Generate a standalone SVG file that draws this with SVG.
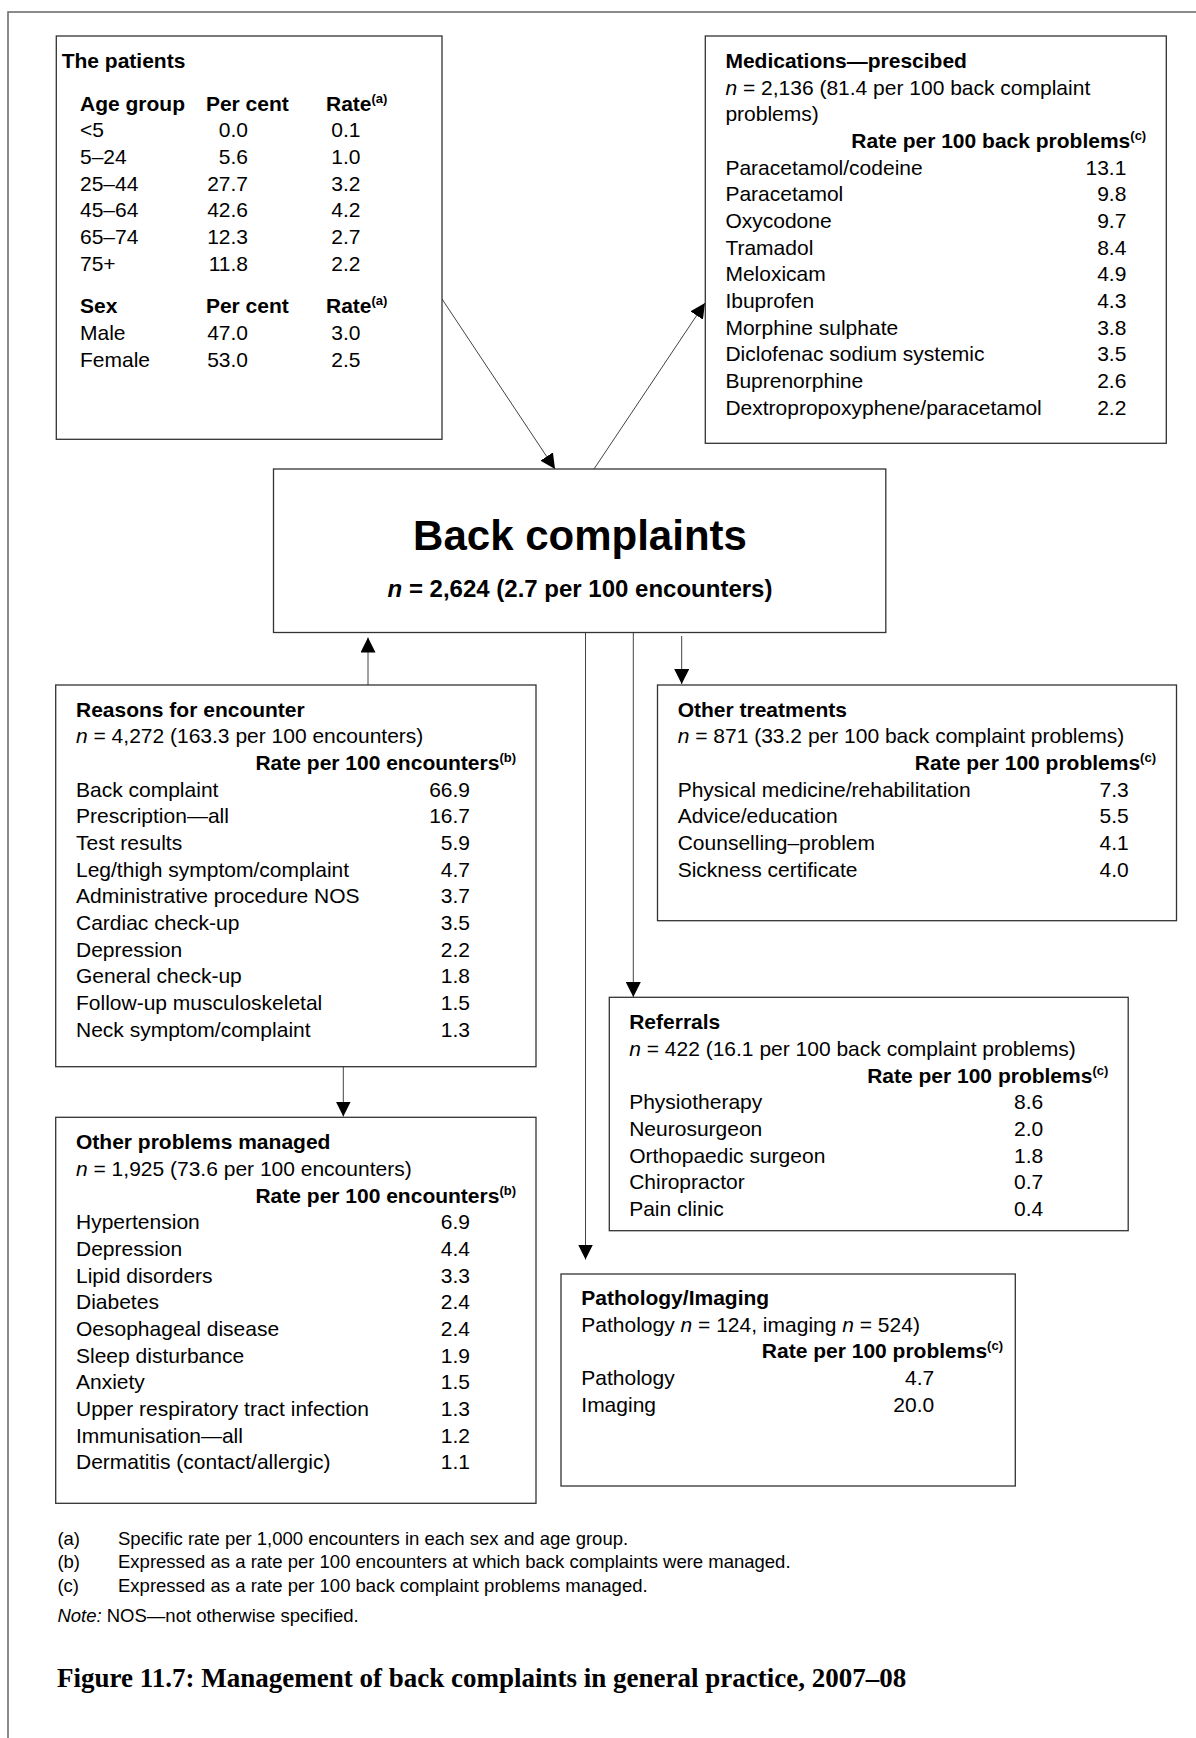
<svg xmlns="http://www.w3.org/2000/svg" width="1196" height="1738" viewBox="0 0 1196 1738">
<defs>
<style>
.t{font-family:"Liberation Sans",Arial,Helvetica,sans-serif;font-size:21px;fill:#000}
.b{font-weight:bold}
.r{text-anchor:end}
.m{text-anchor:middle}
.i{font-style:italic}
.sup{font-size:13px;font-weight:bold}
.box{fill:#fff;stroke:#333;stroke-width:1.3}
.ln{stroke:#444;stroke-width:1;fill:none}
.fn{font-family:"Liberation Sans",Arial,Helvetica,sans-serif;font-size:18.5px;fill:#000}
.cap{font-family:"Liberation Serif","Times New Roman",serif;font-size:27px;font-weight:bold;fill:#000}
</style>
<marker id="ah" markerUnits="userSpaceOnUse" markerWidth="15" markerHeight="15" viewBox="0 0 15 15" refX="15" refY="7.5" orient="auto">
<path d="M0,0 L15,7.5 L0,15 z" fill="#000"/>
</marker>
</defs>
<rect width="1196" height="1738" fill="#fff"/>
<path d="M8,1738 L8,12 L1196,12" fill="none" stroke="#666" stroke-width="1.5"/>

<g id="connectors">
<line class="ln" x1="442" y1="299" x2="555" y2="469" marker-end="url(#ah)"/>
<line class="ln" x1="594" y1="469" x2="705" y2="303" marker-end="url(#ah)"/>
<line class="ln" x1="368" y1="685" x2="368" y2="637.5" marker-end="url(#ah)" stroke="#888"/>
<line class="ln" x1="681.7" y1="636" x2="681.7" y2="684" marker-end="url(#ah)"/>
<line class="ln" x1="633.3" y1="632.5" x2="633.3" y2="997" marker-end="url(#ah)"/>
<line class="ln" x1="585.5" y1="632.5" x2="585.5" y2="1259.5" marker-end="url(#ah)"/>
<line class="ln" x1="343.3" y1="1066.7" x2="343.3" y2="1116.5" marker-end="url(#ah)"/>
</g>

<g id="patients">
<rect class="box" x="56.3" y="36" width="385.7" height="403.3"/>
<text class="t b" x="61.7" y="67.5">The patients</text>
<text class="t b" x="80" y="110.7">Age group</text>
<text class="t b" x="205.9" y="110.7">Per cent</text>
<text class="t b" x="326" y="110.7">Rate<tspan class="sup" dy="-8">(a)</tspan></text>
<text class="t" x="80" y="137.3">&lt;5</text><text class="t r" x="248" y="137.3">0.0</text><text class="t r" x="360.5" y="137.3">0.1</text>
<text class="t" x="80" y="164">5–24</text><text class="t r" x="248" y="164">5.6</text><text class="t r" x="360.5" y="164">1.0</text>
<text class="t" x="80" y="190.7">25–44</text><text class="t r" x="248" y="190.7">27.7</text><text class="t r" x="360.5" y="190.7">3.2</text>
<text class="t" x="80" y="217.3">45–64</text><text class="t r" x="248" y="217.3">42.6</text><text class="t r" x="360.5" y="217.3">4.2</text>
<text class="t" x="80" y="244">65–74</text><text class="t r" x="248" y="244">12.3</text><text class="t r" x="360.5" y="244">2.7</text>
<text class="t" x="80" y="270.7">75+</text><text class="t r" x="248" y="270.7">11.8</text><text class="t r" x="360.5" y="270.7">2.2</text>
<text class="t b" x="80" y="313.3">Sex</text>
<text class="t b" x="205.9" y="313.3">Per cent</text>
<text class="t b" x="326" y="313.3">Rate<tspan class="sup" dy="-8">(a)</tspan></text>
<text class="t" x="80" y="340">Male</text><text class="t r" x="248" y="340">47.0</text><text class="t r" x="360.5" y="340">3.0</text>
<text class="t" x="80" y="366.7">Female</text><text class="t r" x="248" y="366.7">53.0</text><text class="t r" x="360.5" y="366.7">2.5</text>
</g>

<g id="medications">
<rect class="box" x="705.3" y="36" width="461" height="407.3"/>
<text class="t b" x="725.4" y="68">Medications—prescibed</text>
<text class="t" x="725.4" y="94.7"><tspan class="i">n</tspan> = 2,136 (81.4 per 100 back complaint</text>
<text class="t" x="725.4" y="121.3">problems)</text>
<text class="t b r" x="1146.2" y="148">Rate per 100 back problems<tspan class="sup" dy="-8">(c)</tspan></text>
<text class="t" x="725.4" y="174.7">Paracetamol/codeine</text><text class="t r" x="1126.4" y="174.7">13.1</text>
<text class="t" x="725.4" y="201.3">Paracetamol</text><text class="t r" x="1126.4" y="201.3">9.8</text>
<text class="t" x="725.4" y="228">Oxycodone</text><text class="t r" x="1126.4" y="228">9.7</text>
<text class="t" x="725.4" y="254.7">Tramadol</text><text class="t r" x="1126.4" y="254.7">8.4</text>
<text class="t" x="725.4" y="281.3">Meloxicam</text><text class="t r" x="1126.4" y="281.3">4.9</text>
<text class="t" x="725.4" y="308">Ibuprofen</text><text class="t r" x="1126.4" y="308">4.3</text>
<text class="t" x="725.4" y="334.7">Morphine sulphate</text><text class="t r" x="1126.4" y="334.7">3.8</text>
<text class="t" x="725.4" y="361.3">Diclofenac sodium systemic</text><text class="t r" x="1126.4" y="361.3">3.5</text>
<text class="t" x="725.4" y="388">Buprenorphine</text><text class="t r" x="1126.4" y="388">2.6</text>
<text class="t" x="725.4" y="414.7">Dextropropoxyphene/paracetamol</text><text class="t r" x="1126.4" y="414.7">2.2</text>
</g>

<g id="back-complaints">
<rect class="box" x="273.5" y="469" width="612.3" height="163.5"/>
<text class="t b m" x="580" y="550" style="font-size:42px">Back complaints</text>
<text class="t b m" x="580" y="597.3" style="font-size:24px"><tspan class="i">n</tspan> = 2,624 (2.7 per 100 encounters)</text>
</g>

<g id="reasons">
<rect class="box" x="55.7" y="685" width="480.3" height="381.7"/>
<text class="t b" x="76" y="716.7">Reasons for encounter</text>
<text class="t" x="76" y="743.3"><tspan class="i">n</tspan> = 4,272 (163.3 per 100 encounters)</text>
<text class="t b r" x="516" y="770">Rate per 100 encounters<tspan class="sup" dy="-8">(b)</tspan></text>
<text class="t" x="76" y="796.7">Back complaint</text><text class="t r" x="470" y="796.7">66.9</text>
<text class="t" x="76" y="823.3">Prescription—all</text><text class="t r" x="470" y="823.3">16.7</text>
<text class="t" x="76" y="850">Test results</text><text class="t r" x="470" y="850">5.9</text>
<text class="t" x="76" y="876.7">Leg/thigh symptom/complaint</text><text class="t r" x="470" y="876.7">4.7</text>
<text class="t" x="76" y="903.3">Administrative procedure NOS</text><text class="t r" x="470" y="903.3">3.7</text>
<text class="t" x="76" y="930">Cardiac check-up</text><text class="t r" x="470" y="930">3.5</text>
<text class="t" x="76" y="956.7">Depression</text><text class="t r" x="470" y="956.7">2.2</text>
<text class="t" x="76" y="983.3">General check-up</text><text class="t r" x="470" y="983.3">1.8</text>
<text class="t" x="76" y="1010">Follow-up musculoskeletal</text><text class="t r" x="470" y="1010">1.5</text>
<text class="t" x="76" y="1036.7">Neck symptom/complaint</text><text class="t r" x="470" y="1036.7">1.3</text>
</g>

<g id="other-treatments">
<rect class="box" x="657.5" y="685" width="519" height="235.7"/>
<text class="t b" x="677.7" y="716.7">Other treatments</text>
<text class="t" x="677.7" y="743.3"><tspan class="i">n</tspan> = 871 (33.2 per 100 back complaint problems)</text>
<text class="t b r" x="1156" y="770">Rate per 100 problems<tspan class="sup" dy="-8">(c)</tspan></text>
<text class="t" x="677.7" y="796.7">Physical medicine/rehabilitation</text><text class="t r" x="1128.7" y="796.7">7.3</text>
<text class="t" x="677.7" y="823.3">Advice/education</text><text class="t r" x="1128.7" y="823.3">5.5</text>
<text class="t" x="677.7" y="850">Counselling–problem</text><text class="t r" x="1128.7" y="850">4.1</text>
<text class="t" x="677.7" y="876.7">Sickness certificate</text><text class="t r" x="1128.7" y="876.7">4.0</text>
</g>

<g id="referrals">
<rect class="box" x="609.3" y="997.3" width="518.9" height="233.4"/>
<text class="t b" x="629.2" y="1029.3">Referrals</text>
<text class="t" x="629.2" y="1056"><tspan class="i">n</tspan> = 422 (16.1 per 100 back complaint problems)</text>
<text class="t b r" x="1108.3" y="1082.7">Rate per 100 problems<tspan class="sup" dy="-8">(c)</tspan></text>
<text class="t" x="629.2" y="1109.3">Physiotherapy</text><text class="t r" x="1043.3" y="1109.3">8.6</text>
<text class="t" x="629.2" y="1136">Neurosurgeon</text><text class="t r" x="1043.3" y="1136">2.0</text>
<text class="t" x="629.2" y="1162.7">Orthopaedic surgeon</text><text class="t r" x="1043.3" y="1162.7">1.8</text>
<text class="t" x="629.2" y="1189.3">Chiropractor</text><text class="t r" x="1043.3" y="1189.3">0.7</text>
<text class="t" x="629.2" y="1216">Pain clinic</text><text class="t r" x="1043.3" y="1216">0.4</text>
</g>

<g id="other-problems">
<rect class="box" x="55.7" y="1117.3" width="480.3" height="386"/>
<text class="t b" x="76" y="1149.3">Other problems managed</text>
<text class="t" x="76" y="1176"><tspan class="i">n</tspan> = 1,925 (73.6 per 100 encounters)</text>
<text class="t b r" x="516" y="1202.7">Rate per 100 encounters<tspan class="sup" dy="-8">(b)</tspan></text>
<text class="t" x="76" y="1229.3">Hypertension</text><text class="t r" x="470" y="1229.3">6.9</text>
<text class="t" x="76" y="1256">Depression</text><text class="t r" x="470" y="1256">4.4</text>
<text class="t" x="76" y="1282.7">Lipid disorders</text><text class="t r" x="470" y="1282.7">3.3</text>
<text class="t" x="76" y="1309.3">Diabetes</text><text class="t r" x="470" y="1309.3">2.4</text>
<text class="t" x="76" y="1336">Oesophageal disease</text><text class="t r" x="470" y="1336">2.4</text>
<text class="t" x="76" y="1362.7">Sleep disturbance</text><text class="t r" x="470" y="1362.7">1.9</text>
<text class="t" x="76" y="1389.3">Anxiety</text><text class="t r" x="470" y="1389.3">1.5</text>
<text class="t" x="76" y="1416">Upper respiratory tract infection</text><text class="t r" x="470" y="1416">1.3</text>
<text class="t" x="76" y="1442.7">Immunisation—all</text><text class="t r" x="470" y="1442.7">1.2</text>
<text class="t" x="76" y="1469.3">Dermatitis (contact/allergic)</text><text class="t r" x="470" y="1469.3">1.1</text>
</g>

<g id="pathology-imaging">
<rect class="box" x="561" y="1274" width="454.3" height="212"/>
<text class="t b" x="581.3" y="1305">Pathology/Imaging</text>
<text class="t" x="581.3" y="1331.7">Pathology <tspan class="i">n</tspan> = 124, imaging <tspan class="i">n</tspan> = 524)</text>
<text class="t b r" x="1003" y="1358.3">Rate per 100 problems<tspan class="sup" dy="-8">(c)</tspan></text>
<text class="t" x="581.3" y="1385">Pathology</text><text class="t r" x="934.2" y="1385">4.7</text>
<text class="t" x="581.3" y="1411.7">Imaging</text><text class="t r" x="934.2" y="1411.7">20.0</text>
</g>

<g id="footnotes">
<text class="fn" x="57.4" y="1545">(a)</text><text class="fn" x="118" y="1545">Specific rate per 1,000 encounters in each sex and age group.</text>
<text class="fn" x="57.4" y="1568.3">(b)</text><text class="fn" x="118" y="1568.3">Expressed as a rate per 100 encounters at which back complaints were managed.</text>
<text class="fn" x="57.4" y="1591.7">(c)</text><text class="fn" x="118" y="1591.7">Expressed as a rate per 100 back complaint problems managed.</text>
<text class="fn" x="57.4" y="1621.7"><tspan class="i">Note:</tspan> NOS—not otherwise specified.</text>
<text class="cap" x="57" y="1687">Figure 11.7: Management of back complaints in general practice, 2007–08</text>
</g>
</svg>
